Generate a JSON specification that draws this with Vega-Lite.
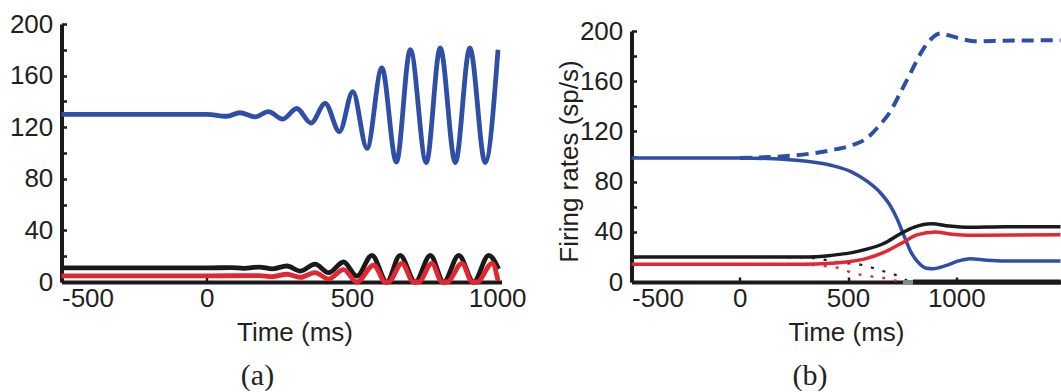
{
  "$schema": "https://vega.github.io/schema/vega-lite/v6.json",
  "background": "white",
  "padding": {"left": 8.5, "top": 11, "right": 0, "bottom": 0},
  "spacing": 130,
  "bounds": "flush",
  "config": {
    "view": {"stroke": null},
    "font": "Liberation Sans",
    "axis": {
      "domainColor": "#1a1a1a", "domainWidth": 4,
      "tickColor": "#1a1a1a", "tickWidth": 2.5, "tickSize": -5,
      "labelFont": "Liberation Sans", "labelFontSize": 26, "labelColor": "#231f20",
      "titleFont": "Liberation Sans", "titleFontSize": 26, "titleFontWeight": "normal", "titleColor": "#231f20",
      "grid": false
    },
    "axisX": {"labelPadding": 8.5, "titlePadding": 8},
    "axisY": {"labelPadding": 13.7, "titlePadding": 2},
    "title": {"font": "Liberation Serif", "fontSize": 30, "fontWeight": "normal", "color": "#222222"}
  },
  "datasets": {
    "a": [
      {"s": "blue", "t": -500, "v": 130}, {"s": "blue", "t": 0, "v": 130},
      {"s": "blue", "t": 69, "v": 128.5}, {"s": "blue", "t": 114, "v": 131.2},
      {"s": "blue", "t": 167, "v": 128}, {"s": "blue", "t": 212, "v": 132},
      {"s": "blue", "t": 262, "v": 126.3}, {"s": "blue", "t": 310, "v": 134.5},
      {"s": "blue", "t": 359, "v": 123.2}, {"s": "blue", "t": 408, "v": 138.4},
      {"s": "blue", "t": 457, "v": 116.6}, {"s": "blue", "t": 503, "v": 147.5},
      {"s": "blue", "t": 552, "v": 103.7}, {"s": "blue", "t": 603, "v": 166},
      {"s": "blue", "t": 653, "v": 93}, {"s": "blue", "t": 701, "v": 180.2},
      {"s": "blue", "t": 756, "v": 92.6}, {"s": "blue", "t": 804, "v": 181.4},
      {"s": "blue", "t": 856, "v": 92.6}, {"s": "blue", "t": 906, "v": 181.4},
      {"s": "blue", "t": 959, "v": 92.6}, {"s": "blue", "t": 1003, "v": 180},

      {"s": "black", "t": -500, "v": 10.9}, {"s": "black", "t": 0, "v": 10.9},
      {"s": "black", "t": 83, "v": 11.2}, {"s": "black", "t": 128, "v": 10.6},
      {"s": "black", "t": 181, "v": 11.6}, {"s": "black", "t": 226, "v": 10.2},
      {"s": "black", "t": 276, "v": 12.4}, {"s": "black", "t": 322, "v": 8.5},
      {"s": "black", "t": 373, "v": 13.8}, {"s": "black", "t": 420, "v": 7.2},
      {"s": "black", "t": 471, "v": 15.5}, {"s": "black", "t": 517, "v": 4.5},
      {"s": "black", "t": 569, "v": 20.7}, {"s": "black", "t": 620, "v": 0},
      {"s": "black", "t": 666, "v": 20.7}, {"s": "black", "t": 718, "v": 0},
      {"s": "black", "t": 770, "v": 20.7}, {"s": "black", "t": 816, "v": 0},
      {"s": "black", "t": 868, "v": 20.7}, {"s": "black", "t": 919, "v": 0},
      {"s": "black", "t": 971, "v": 20.7}, {"s": "black", "t": 1005, "v": 10},

      {"s": "red", "t": -500, "v": 4.7}, {"s": "red", "t": 0, "v": 4.7},
      {"s": "red", "t": 181, "v": 5}, {"s": "red", "t": 226, "v": 4.2},
      {"s": "red", "t": 276, "v": 6}, {"s": "red", "t": 322, "v": 3.6},
      {"s": "red", "t": 373, "v": 7.2}, {"s": "red", "t": 420, "v": 2.3},
      {"s": "red", "t": 471, "v": 9.6}, {"s": "red", "t": 517, "v": 0},
      {"s": "red", "t": 575, "v": 13}, {"s": "red", "t": 615, "v": 0},
      {"s": "red", "t": 626, "v": 0}, {"s": "red", "t": 672, "v": 14.5},
      {"s": "red", "t": 712, "v": 0}, {"s": "red", "t": 730, "v": 0},
      {"s": "red", "t": 775, "v": 14.5}, {"s": "red", "t": 810, "v": 0},
      {"s": "red", "t": 828, "v": 0}, {"s": "red", "t": 879, "v": 14.5},
      {"s": "red", "t": 914, "v": 0}, {"s": "red", "t": 931, "v": 0},
      {"s": "red", "t": 983, "v": 14.5}, {"s": "red", "t": 1003, "v": 1}
    ],
    "b": [
      {"s": "blue", "t": -500, "v": 98.8}, {"s": "blue", "t": 5, "v": 98.8},
      {"s": "blue", "t": 261, "v": 97}, {"s": "blue", "t": 421, "v": 93},
      {"s": "blue", "t": 518, "v": 87.6}, {"s": "blue", "t": 582, "v": 81},
      {"s": "blue", "t": 646, "v": 71.7}, {"s": "blue", "t": 694, "v": 61},
      {"s": "blue", "t": 726, "v": 50.5}, {"s": "blue", "t": 758, "v": 37},
      {"s": "blue", "t": 790, "v": 24}, {"s": "blue", "t": 822, "v": 16},
      {"s": "blue", "t": 862, "v": 11}, {"s": "blue", "t": 894, "v": 10.6},
      {"s": "blue", "t": 950, "v": 13}, {"s": "blue", "t": 1014, "v": 17},
      {"s": "blue", "t": 1063, "v": 18.6}, {"s": "blue", "t": 1143, "v": 17.3},
      {"s": "blue", "t": 1223, "v": 16.7}, {"s": "blue", "t": 1481, "v": 16.7},

      {"s": "blueDash", "t": 0, "v": 98.8}, {"s": "blueDash", "t": 261, "v": 101},
      {"s": "blueDash", "t": 421, "v": 105}, {"s": "blueDash", "t": 518, "v": 109},
      {"s": "blueDash", "t": 582, "v": 114}, {"s": "blueDash", "t": 646, "v": 125},
      {"s": "blueDash", "t": 694, "v": 135.5}, {"s": "blueDash", "t": 742, "v": 151},
      {"s": "blueDash", "t": 790, "v": 167}, {"s": "blueDash", "t": 838, "v": 183},
      {"s": "blueDash", "t": 886, "v": 194}, {"s": "blueDash", "t": 926, "v": 198},
      {"s": "blueDash", "t": 966, "v": 196.5}, {"s": "blueDash", "t": 1030, "v": 193.4},
      {"s": "blueDash", "t": 1095, "v": 191.8}, {"s": "blueDash", "t": 1223, "v": 192.3},
      {"s": "blueDash", "t": 1481, "v": 192.6},

      {"s": "black", "t": -500, "v": 19.9}, {"s": "black", "t": 300, "v": 19.9},
      {"s": "black", "t": 421, "v": 21.2}, {"s": "black", "t": 518, "v": 23.4},
      {"s": "black", "t": 582, "v": 26}, {"s": "black", "t": 662, "v": 30.5},
      {"s": "black", "t": 742, "v": 38.5}, {"s": "black", "t": 806, "v": 43.8},
      {"s": "black", "t": 886, "v": 46.5}, {"s": "black", "t": 966, "v": 44.6},
      {"s": "black", "t": 1063, "v": 43.6}, {"s": "black", "t": 1223, "v": 44},
      {"s": "black", "t": 1481, "v": 44},

      {"s": "red", "t": -500, "v": 14.1}, {"s": "red", "t": 300, "v": 14.1},
      {"s": "red", "t": 421, "v": 14.9}, {"s": "red", "t": 518, "v": 16.5},
      {"s": "red", "t": 582, "v": 18.6}, {"s": "red", "t": 662, "v": 23.4},
      {"s": "red", "t": 742, "v": 30.5}, {"s": "red", "t": 822, "v": 37.7},
      {"s": "red", "t": 902, "v": 39.8}, {"s": "red", "t": 982, "v": 38},
      {"s": "red", "t": 1063, "v": 37.2}, {"s": "red", "t": 1481, "v": 37.7},

      {"s": "blackDot", "t": 0, "v": 19.9}, {"s": "blackDot", "t": 300, "v": 19.5},
      {"s": "blackDot", "t": 400, "v": 17.5}, {"s": "blackDot", "t": 461, "v": 15.5},
      {"s": "blackDot", "t": 561, "v": 13.7}, {"s": "blackDot", "t": 654, "v": 9},
      {"s": "blackDot", "t": 715, "v": 6}, {"s": "blackDot", "t": 760, "v": 2},
      {"s": "blackDot", "t": 790, "v": 0},

      {"s": "redDot", "t": 0, "v": 14.1}, {"s": "redDot", "t": 300, "v": 13.8},
      {"s": "redDot", "t": 400, "v": 12.5}, {"s": "redDot", "t": 461, "v": 11},
      {"s": "redDot", "t": 515, "v": 7.5}, {"s": "redDot", "t": 607, "v": 4.5},
      {"s": "redDot", "t": 707, "v": 1.8}, {"s": "redDot", "t": 740, "v": 0},

      {"s": "gray", "t": 753, "v": 0}, {"s": "gray", "t": 800, "v": 0},
      {"s": "zero", "t": 800, "v": 0}, {"s": "zero", "t": 1481, "v": 0}
    ]
  },
  "hconcat": [
    {
      "width": 440, "height": 258,
      "title": {"text": "(a)", "orient": "bottom", "dx": -24, "offset": 15},
      "data": {"name": "a"},
      "encoding": {
        "x": {"field": "t", "type": "quantitative",
              "scale": {"domain": [-500, 1015], "nice": false, "zero": false},
              "axis": {"values": [-500, 0, 500, 1000], "labelExpr": "'' + datum.value",
                       "title": "Time (ms)", "titleX": 233}},
        "y": {"field": "v", "type": "quantitative",
              "scale": {"domain": [0, 200], "nice": false},
              "axis": {"values": [0, 20, 40, 60, 80, 100, 120, 140, 160, 180, 200],
                       "labelExpr": "datum.value % 40 === 0 ? '' + datum.value : ''", "title": null}}
      },
      "layer": [
        {"transform": [{"filter": "datum.s === 'blue'"}],
         "mark": {"type": "line", "interpolate": "monotone", "strokeWidth": 4.8, "color": "#2f4ea6"}},
        {"transform": [{"filter": "datum.s === 'black'"}],
         "mark": {"type": "line", "interpolate": "monotone", "strokeWidth": 4.8, "color": "#1a1a1a"}},
        {"transform": [{"filter": "datum.s === 'red'"}],
         "mark": {"type": "line", "interpolate": "monotone", "strokeWidth": 4.8, "color": "#e52530"}}
      ]
    },
    {
      "width": 429, "height": 258,
      "title": {"text": "(b)", "orient": "bottom", "dx": -36, "offset": 15},
      "data": {"name": "b"},
      "encoding": {
        "x": {"field": "t", "type": "quantitative",
              "scale": {"domain": [-500, 1481], "nice": false, "zero": false},
              "axis": {"values": [-500, 0, 500, 1000], "labelExpr": "'' + datum.value", "title": "Time (ms)"}},
        "y": {"field": "v", "type": "quantitative",
              "scale": {"domain": [0, 200], "nice": false, "range": [258, 7]},
              "axis": {"values": [0, 20, 40, 60, 80, 100, 120, 140, 160, 180, 200],
                       "labelExpr": "datum.value % 40 === 0 ? '' + datum.value : ''",
                       "title": "Firing rates (sp/s)", "titlePadding": -3, "titleY": 137}}
      },
      "layer": [
        {"transform": [{"filter": "datum.s === 'blackDot'"}],
         "mark": {"type": "line", "interpolate": "monotone", "strokeWidth": 2.2, "strokeDash": [3, 9], "color": "#1a1a1a"}},
        {"transform": [{"filter": "datum.s === 'redDot'"}],
         "mark": {"type": "line", "interpolate": "monotone", "strokeWidth": 2.2, "strokeDash": [3, 9], "color": "#e52530"}},
        {"transform": [{"filter": "datum.s === 'blueDash'"}],
         "mark": {"type": "line", "interpolate": "monotone", "strokeWidth": 4, "strokeDash": [12, 7], "color": "#2f4ea6"}},
        {"transform": [{"filter": "datum.s === 'blue'"}],
         "mark": {"type": "line", "interpolate": "monotone", "strokeWidth": 3.5, "color": "#2f4ea6"}},
        {"transform": [{"filter": "datum.s === 'black'"}],
         "mark": {"type": "line", "interpolate": "monotone", "strokeWidth": 3.5, "color": "#1a1a1a"}},
        {"transform": [{"filter": "datum.s === 'red'"}],
         "mark": {"type": "line", "interpolate": "monotone", "strokeWidth": 3.5, "color": "#e52530"}},
        {"transform": [{"filter": "datum.s === 'gray'"}],
         "mark": {"type": "line", "strokeWidth": 4, "color": "#888888"}},
        {"transform": [{"filter": "datum.s === 'zero'"}],
         "mark": {"type": "line", "strokeWidth": 5, "color": "#1a1a1a"}}
      ]
    }
  ]
}
